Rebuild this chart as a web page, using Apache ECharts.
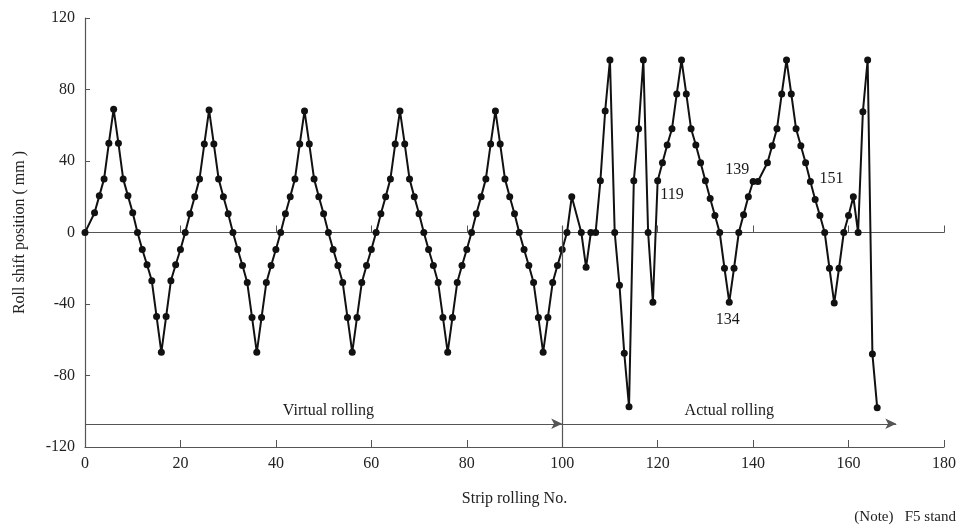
<!DOCTYPE html>
<html>
<head>
<meta charset="utf-8">
<title>Roll shift position</title>
<script src="https://cdn.jsdelivr.net/npm/echarts@6/dist/echarts.min.js"></script>
<style>
html,body{margin:0;padding:0;background:#fff;}
#chart{width:959px;height:531px;}
</style>
</head>
<body>
<div id="chart"></div>
<script>
// virtual rolling, strips 0..100
var virtualNo = [
	0,2,3,4,5,6,7,8,9,10,11,12,13,14,15,16,17,18,19,20,
	21,22,23,24,25,26,27,28,29,30,31,32,33,34,35,36,37,38,39,40,
	41,42,43,44,45,46,47,48,49,50,51,52,53,54,55,56,57,58,59,60,
	61,62,63,64,65,66,67,68,69,70,71,72,73,74,75,76,77,78,79,80,
	81,82,83,84,85,86,87,88,89,90,91,92,93,94,95,96,97,98,99,100
];
var virtualShift = [
	0,11,20.5,30,50,69,50,30,20.5,11,0,-9.5,-18,-27,-47,-67,-47,-27,-18,-9.5,
	0,10.5,20,30,49.5,68.5,49.5,30,20,10.5,0,-9.5,-18.5,-28,-47.5,-67,-47.5,-28,-18.5,-9.5,
	0,10.5,20,30,49.5,68,49.5,30,20,10.5,0,-9.5,-18.5,-28,-47.5,-67,-47.5,-28,-18.5,-9.5,
	0,10.5,20,30,49.5,68,49.5,30,20,10.5,0,-9.5,-18.5,-28,-47.5,-67,-47.5,-28,-18.5,-9.5,
	0,10.5,20,30,49.5,68,49.5,30,20,10.5,0,-9.5,-18.5,-28,-47.5,-67,-47.5,-28,-18.5,-9.5
];
// actual rolling
var actualNo = [
	101,102,104,105,106,107,108,109,110,111,
	112,113,114,115,116,117,118,119,120,121,
	122,123,124,125,126,127,128,129,130,131,
	132,133,134,135,136,137,138,139,140,141,
	143,144,145,146,147,148,149,150,151,152,
	153,154,155,156,157,158,159,160,161,162,
	163,164,165,166
];
var actualShift = [
	0,20,0,-19.5,0,0,29,68,96.5,0,
	-29.5,-67.5,-97.5,29,58,96.5,0,-39,29,39,
	49,58,77.5,96.5,77.5,58,49,39,29,19,
	9.5,0,-20,-39,-20,0,10,20,28.5,28.5,
	39,48.5,58,77.5,96.5,77.5,58,48.5,39,28.5,
	18.5,9.5,0,-20,-39.5,-20,0,9.5,20,0,
	67.5,96.5,-68,-98
];

// text notes inside the plot
var noteText = ['119','134','139','151','Virtual rolling','Actual rolling'];
var noteX = [123, 134.7, 136.7, 156.4, 51, 135];
var noteY = [21, -49, 35, 30, -99.5, -99.5];

var splitNo = 100;     // end of virtual rolling
var arrowLevel = -107;
var arrowEnd = 170;

var FONT = 'Liberation Serif';
var INK = '#111';
var AXIS = '#555';

initChart();

function initChart(){
	var myChart = echarts.init(document.getElementById('chart'));

	var lineData = [];
	for(var i=0;i<virtualNo.length;i++){
		lineData.push([virtualNo[i], virtualShift[i]]);
	}
	for(var i=0;i<actualNo.length;i++){
		lineData.push([actualNo[i], actualShift[i]]);
	}

	var notes = [];
	for(var i=0;i<noteText.length;i++){
		notes.push({name:noteText[i], value:[noteX[i], noteY[i]]});
	}

	var option = {
		animation:false,
		backgroundColor:'#fff',
		grid:{left:85, right:13, top:18, bottom:84},
		textStyle:{fontFamily:FONT},
		xAxis:[
			{
				type:'value', min:0, max:180, interval:20,
				position:'bottom',
				name:'Strip rolling No.', nameLocation:'middle', nameGap:44,
				nameTextStyle:{fontFamily:FONT, fontSize:16, color:'#222'},
				axisLine:{onZero:false, lineStyle:{color:AXIS, width:1.2}},
				axisTick:{inside:true, length:7, lineStyle:{color:AXIS}},
				axisLabel:{margin:9, fontFamily:FONT, fontSize:16, color:'#222'},
				splitLine:{show:false}
			},
			{
				// the zero line with its small ticks
				type:'value', min:0, max:180, interval:20,
				position:'top',
				axisLine:{onZero:true, lineStyle:{color:AXIS, width:1.2}},
				axisTick:{inside:false, length:7, lineStyle:{color:AXIS}},
				axisLabel:{show:false},
				splitLine:{show:false}
			}
		],
		yAxis:{
			type:'value', min:-120, max:120, interval:40,
			name:'Roll shift position ( mm )', nameLocation:'middle', nameGap:57,
			nameTextStyle:{fontFamily:FONT, fontSize:16, color:'#222'},
			axisLine:{lineStyle:{color:AXIS, width:1.2}},
			axisTick:{inside:true, length:5, lineStyle:{color:AXIS}},
			axisLabel:{margin:10, fontFamily:FONT, fontSize:16, color:'#222'},
			splitLine:{show:false}
		},
		graphic:[{
			type:'text', right:3, bottom:6,
			style:{text:'(Note)   F5 stand', font:'15px "Liberation Serif"', fill:'#222'}
		}],
		series:[
			{
				name:'shift',
				type:'line',
				data:lineData,
				symbol:'circle',
				symbolSize:7,
				itemStyle:{color:INK},
				lineStyle:{color:INK, width:2},
				markLine:{
					silent:true,
					animation:false,
					label:{show:false},
					symbolSize:[8,11],
					lineStyle:{color:AXIS, width:1.2, type:'solid'},
					data:[
						[{coord:[0, arrowLevel], symbol:'none'}, {coord:[splitNo, arrowLevel], symbol:'arrow'}],
						[{coord:[splitNo, arrowLevel], symbol:'none'}, {coord:[arrowEnd, arrowLevel], symbol:'arrow'}],
						[{coord:[splitNo, 3.7], symbol:'none'}, {coord:[splitNo, -120], symbol:'none'}]
					]
				}
			},
			{
				name:'notes',
				type:'scatter',
				data:notes,
				symbolSize:0,
				silent:true,
				itemStyle:{opacity:1},
				label:{
					show:true, position:'inside',
					fontFamily:FONT, fontSize:16, color:'#1a1a1a',
					formatter:function(p){ return p.name; }
				}
			}
		]
	};
	myChart.setOption(option);
}
</script>
</body>
</html>
